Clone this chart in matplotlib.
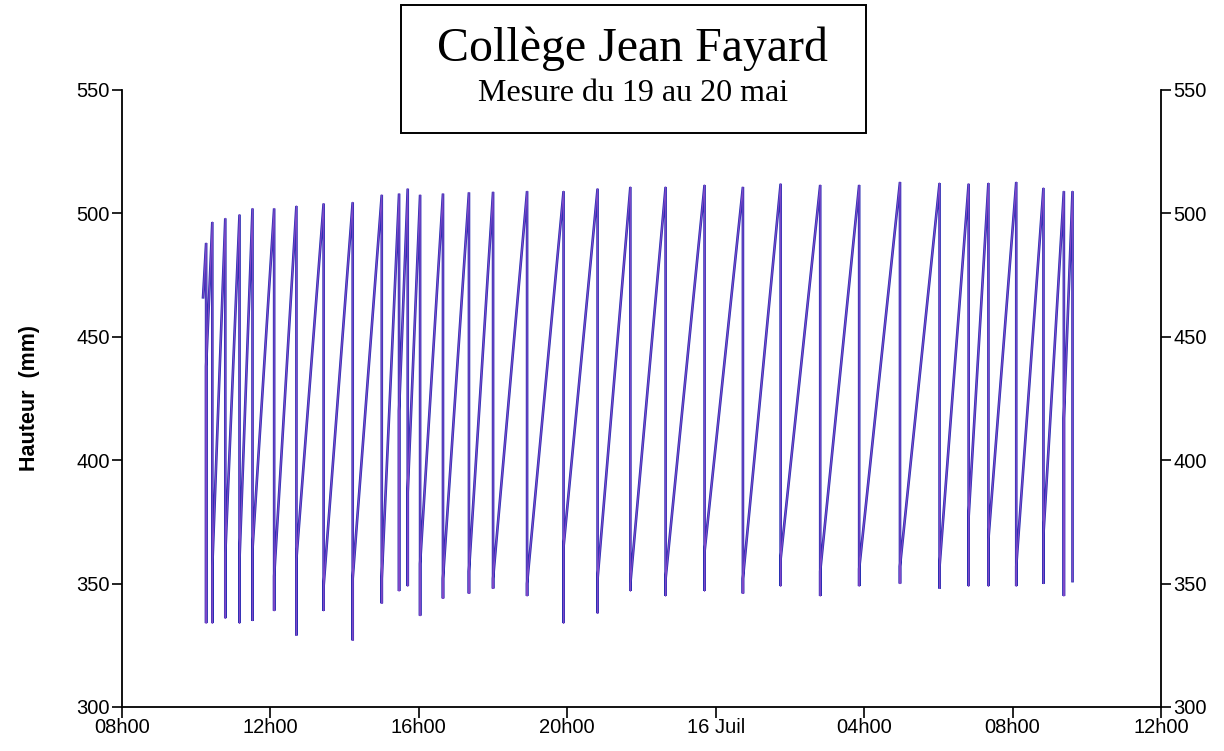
import pandas as pd
import matplotlib
matplotlib.use("Agg")
import matplotlib.pyplot as plt
from matplotlib.patches import Rectangle

# first reading of the logger
start_time = "2015-07-15 10:11"
start_level = 466

# each flush: time of the drop, level before, lowest level, level where refill starts
flush_times = [
    "2015-07-15 10:16", "2015-07-15 10:26", "2015-07-15 10:47", "2015-07-15 11:10",
    "2015-07-15 11:31", "2015-07-15 12:06", "2015-07-15 12:42", "2015-07-15 13:26",
    "2015-07-15 14:13", "2015-07-15 15:00", "2015-07-15 15:28", "2015-07-15 15:42",
    "2015-07-15 16:02", "2015-07-15 16:39", "2015-07-15 17:21", "2015-07-15 18:00",
    "2015-07-15 18:55", "2015-07-15 19:54", "2015-07-15 20:49", "2015-07-15 21:42",
    "2015-07-15 22:39", "2015-07-15 23:42", "2015-07-16 00:44", "2015-07-16 01:45",
    "2015-07-16 02:49", "2015-07-16 03:52", "2015-07-16 04:58", "2015-07-16 06:02",
    "2015-07-16 06:49", "2015-07-16 07:21", "2015-07-16 08:06", "2015-07-16 08:50",
    "2015-07-16 09:23", "2015-07-16 09:37",
]
peak_levels = [488, 496.5, 498, 499.5, 502, 502, 503, 504, 504.5, 507.5, 508, 510,
               507.5, 508, 508.5, 508.7, 509, 509, 510, 510.7, 510.7, 511.5, 510.7, 512,
               511.5, 511.5, 512.7, 512.3, 512, 512.3, 512.7, 510.3, 509, 509]
low_levels = [334, 334, 336, 334, 335, 339, 329, 339, 327, 342, 347, 349, 337, 344,
              346, 348, 345, 334, 338, 347, 345, 347, 346, 349, 345, 349, 350, 348,
              349, 349, 349, 350, 345, 351]
refill_levels = [438, 357, 362, 360, 364, 353, 360, 349, 352, 352, 420, 387, 358, 352,
                 355, 352, 350, 365, 352, 350, 352, 363, 352, 360, 355, 356, 357, 357,
                 377, 368, 357, 370, 417]

tick_times = pd.date_range("2015-07-15 08:00", "2015-07-16 12:00", freq="4h")
tick_labels = ["08h00", "12h00", "16h00", "20h00", "16 Juil", "04h00", "08h00", "12h00"]

# build the saw-tooth trace
times = [pd.Timestamp(start_time)]
levels = [start_level]
for i, t in enumerate(pd.to_datetime(flush_times)):
    times += [t, t]
    levels += [peak_levels[i], low_levels[i]]
    if i < len(refill_levels):
        times.append(t)
        levels.append(refill_levels[i])

fig = plt.figure(figsize=(12.24, 7.51), dpi=100)
ax = fig.add_axes([0.0997, 0.0586, 0.8488, 0.8216])

ax.plot(times, levels, color="#2a2fb3", lw=1.9, solid_joinstyle="miter")
ax.plot(times, levels, color="#8048c8", lw=0.8)

ax.set_xlim(tick_times[0], tick_times[-1])
ax.set_ylim(300, 550)
ax.set_xticks(tick_times)
ax.set_xticklabels(tick_labels)
ax.set_yticks(range(300, 551, 50))

ax.spines["top"].set_visible(False)
for s in ["left", "right", "bottom"]:
    ax.spines[s].set_linewidth(1.3)
ax.tick_params(axis="y", which="both", left=True, right=True, labelleft=True, labelright=True,
               direction="out", length=7, width=1.2, labelsize=14.5, pad=2)
ax.tick_params(axis="x", direction="out", length=8, width=1.2, labelsize=14.5, pad=0)
for lab in ax.get_xticklabels() + ax.get_yticklabels():
    lab.set_fontfamily("Liberation Sans")

ax.set_ylabel("Hauteur  (mm)", fontsize=15.5, fontweight="bold", family="Liberation Sans", labelpad=26)

# title box
fig.patches.append(Rectangle((0.3276, 0.823), 0.380, 0.1704, transform=fig.transFigure,
                             fill=False, edgecolor="black", linewidth=1.4))
fig.text(0.517, 0.935, "Collège Jean Fayard", ha="center", va="center",
         family="Liberation Serif", fontsize=34.5)
fig.text(0.517, 0.875, "Mesure du 19 au 20 mai", ha="center", va="center",
         family="Liberation Serif", fontsize=23)

fig.savefig("out.png", dpi=100)
